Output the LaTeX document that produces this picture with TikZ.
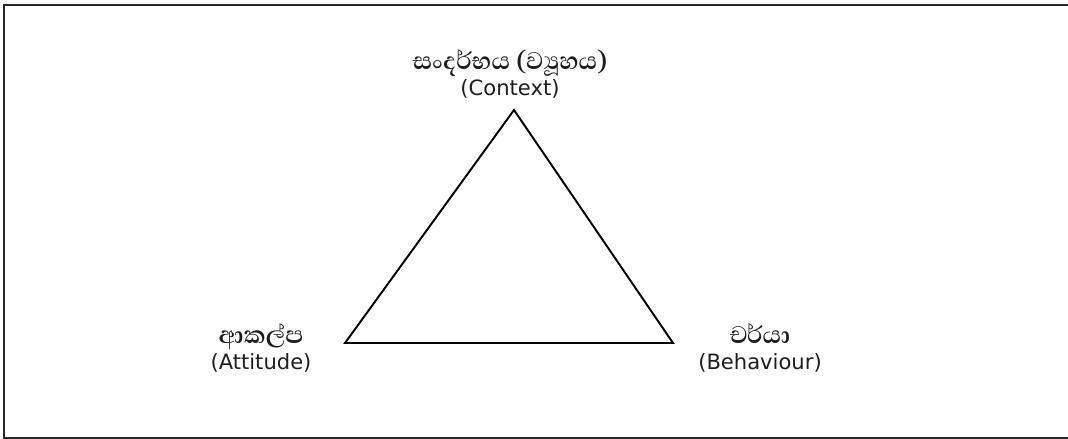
\documentclass[tikz,border=0pt]{standalone}
\usepackage{fontspec}
\setmainfont{DejaVu Sans}
\newfontfamily\sinhala[Script=Sinhala]{Abhaya Libre}
\usetikzlibrary{positioning}
\definecolor{frameink}{RGB}{40,40,40}
\definecolor{textink}{RGB}{30,30,30}

\begin{document}
\begin{tikzpicture}[x=0.02cm,y=-0.02cm,
  corner/.style={align=center,text=textink,font=\fontsize{12}{15}\selectfont,inner sep=0pt}]
\useasboundingbox (0,0) rectangle (1068,439);
\draw[frameink,line width=1.4pt] (4,5) rectangle (1080,438);
\coordinate (ctx) at (514,110);
\coordinate (att) at (345,343);
\coordinate (beh) at (673,343);
\draw[line width=1.1pt,line join=miter] (ctx) -- (att) -- (beh) -- cycle;
\node[corner] (ctxlbl) at (510,74) {{\sinhala\bfseries\fontsize{17.5}{15}\selectfont සංදර්භය (ව්‍යූහය)}\\(Context)};
\node[corner] (attlbl) at (261,348) {{\sinhala\bfseries\fontsize{17.5}{15}\selectfont ආකල්ප}\\(Attitude)};
\node[corner] (behlbl) at (760,348) {{\sinhala\bfseries\fontsize{17.5}{15}\selectfont චර්යා}\\(Behaviour)};
\end{tikzpicture}
\end{document}
